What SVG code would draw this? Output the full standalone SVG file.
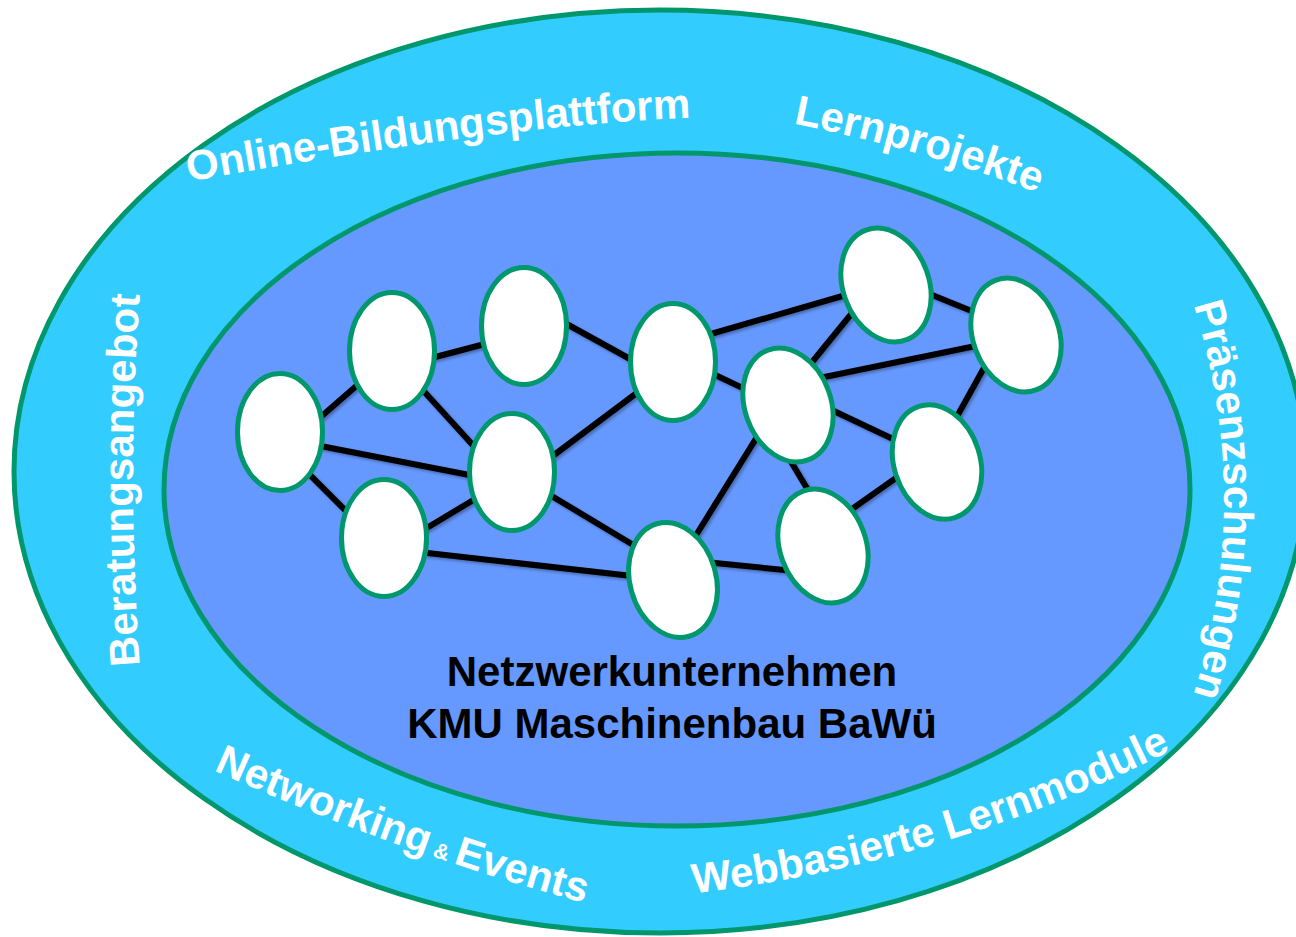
<svg xmlns="http://www.w3.org/2000/svg" width="1296" height="937" viewBox="0 0 1296 937">
  <style>
    .ring { fill: #33CCFF; stroke: #00976C; stroke-width: 5; }
    .core { fill: #6699FF; stroke: #00976C; stroke-width: 5; }
    .node { fill: #FFFFFF; stroke: #00976C; stroke-width: 5; }
    .edge { stroke: #000000; stroke-width: 6; stroke-linecap: butt; fill: none; }
    .label { font-family: "Liberation Sans", Arial, sans-serif; font-weight: bold; font-size: 42px; fill: #FFFFFF; }
    .title { font-family: "Liberation Sans", Arial, sans-serif; font-weight: bold; font-size: 42px; fill: #000000; text-anchor: middle; }
  </style>
  <defs>
    <filter id="edgeShadow" x="-10%" y="-10%" width="120%" height="120%">
      <feDropShadow dx="2" dy="2" stdDeviation="1.5" flood-color="#000000" flood-opacity="0.3"/>
    </filter>
    <!-- baselines for the curved ring labels -->
    <path id="arc-online" d="M152.6,188.1 L192,181 Q500.6,125.5 687,118 L727,116.4"/>
    <path id="arc-lern" d="M755.8,116.2 L795,124 Q920,149 1036,192 L1073.5,205.9"/>
    <path id="arc-praesenz" d="M1179.8,261.9 L1192,300 Q1256,500 1192,700 L1179.8,738.1"/>
    <path id="arc-web" d="M657.3,897.8 L697,893 Q945.7,863 1168,752 L1203.8,734.1"/>
    <path id="arc-network" d="M176.5,753.6 L213,770 Q394,851.5 585,903 L623.6,913.4"/>
    <path id="arc-beratung" d="M143,707 L140,667 Q126,480 140,293 L143,253"/>
  </defs>

  <rect width="1296" height="937" fill="#FFFFFF"/>

  <g id="outer-ring">
    <ellipse class="ring" cx="660" cy="471.5" rx="646" ry="461.5"/>
  </g>
  <g id="inner-field">
    <ellipse class="core" cx="677" cy="489.5" rx="513" ry="336.5"/>
  </g>

  <g id="ring-labels" class="label">
    <text id="label-online"><textPath href="#arc-online" startOffset="50%" text-anchor="middle">Online-Bildungsplattform</textPath></text>
    <text id="label-lernprojekte"><textPath href="#arc-lern" startOffset="50%" text-anchor="middle">Lernprojekte</textPath></text>
    <text id="label-praesenz"><textPath href="#arc-praesenz" startOffset="50%" text-anchor="middle">Präsenzschulungen</textPath></text>
    <text id="label-web"><textPath href="#arc-web" startOffset="50%" text-anchor="middle">Webbasierte Lernmodule</textPath></text>
    <text id="label-networking"><textPath href="#arc-network" startOffset="50%" text-anchor="middle">Networking<tspan font-size="22"> &amp; </tspan>Events</textPath></text>
    <text id="label-beratung"><textPath href="#arc-beratung" startOffset="50%" text-anchor="middle">Beratungsangebot</textPath></text>
  </g>

  <g id="connectors" filter="url(#edgeShadow)">
    <line class="edge" x1="300" y1="435" x2="370" y2="374"/>
    <line class="edge" x1="420" y1="361" x2="500" y2="340"/>
    <line class="edge" x1="410" y1="376" x2="490" y2="464"/>
    <line class="edge" x1="300" y1="442" x2="490" y2="479"/>
    <line class="edge" x1="295" y1="460" x2="360" y2="525"/>
    <line class="edge" x1="410" y1="538" x2="490" y2="490"/>
    <line class="edge" x1="410" y1="551" x2="650" y2="578"/>
    <line class="edge" x1="530" y1="473" x2="650" y2="383"/>
    <line class="edge" x1="540" y1="489" x2="650" y2="555"/>
    <line class="edge" x1="545" y1="312" x2="650" y2="370"/>
    <line class="edge" x1="690" y1="340" x2="870" y2="288"/>
    <line class="edge" x1="690" y1="363" x2="770" y2="401"/>
    <line class="edge" x1="795" y1="383" x2="870" y2="291"/>
    <line class="edge" x1="800" y1="382" x2="1000" y2="341"/>
    <line class="edge" x1="910" y1="286" x2="1000" y2="322.5"/>
    <line class="edge" x1="995" y1="348" x2="945" y2="438"/>
    <line class="edge" x1="800" y1="395" x2="930" y2="456.5"/>
    <line class="edge" x1="781" y1="445" x2="820" y2="510"/>
    <line class="edge" x1="920" y1="461" x2="830" y2="524.5"/>
    <line class="edge" x1="775" y1="408" x2="680" y2="561"/>
    <line class="edge" x1="690" y1="560.5" x2="810" y2="572.5"/>
  </g>

  <g id="node-a"><ellipse class="node" cx="280" cy="432" rx="42.5" ry="58.5"/></g>
  <g id="node-b"><ellipse class="node" cx="392" cy="351" rx="42.5" ry="58.5"/></g>
  <g id="node-c"><ellipse class="node" cx="524" cy="326" rx="42.5" ry="58.5"/></g>
  <g id="node-d"><ellipse class="node" cx="512" cy="472" rx="42.5" ry="58.5"/></g>
  <g id="node-e"><ellipse class="node" cx="384" cy="538" rx="42.5" ry="58.5"/></g>
  <g id="node-f"><ellipse class="node" cx="673" cy="362" rx="42.5" ry="58.5"/></g>
  <g id="node-g"><ellipse class="node" cx="0" cy="0" rx="43" ry="58.5" transform="translate(788 405) rotate(-20)"/></g>
  <g id="node-h"><ellipse class="node" cx="0" cy="0" rx="43" ry="58.5" transform="translate(886 285) rotate(-20)"/></g>
  <g id="node-i"><ellipse class="node" cx="0" cy="0" rx="43" ry="58.5" transform="translate(1016 335) rotate(-20)"/></g>
  <g id="node-j"><ellipse class="node" cx="0" cy="0" rx="43" ry="58.5" transform="translate(937 462) rotate(-18)"/></g>
  <g id="node-k"><ellipse class="node" cx="0" cy="0" rx="43" ry="58.5" transform="translate(823 546) rotate(-20)"/></g>
  <g id="node-l"><ellipse class="node" cx="0" cy="0" rx="43" ry="58.5" transform="translate(673 580) rotate(-16)"/></g>

  <g id="network-title" class="title">
    <text x="672" y="686">Netzwerkunternehmen</text>
    <text x="672" y="738">KMU Maschinenbau BaWü</text>
  </g>
</svg>
